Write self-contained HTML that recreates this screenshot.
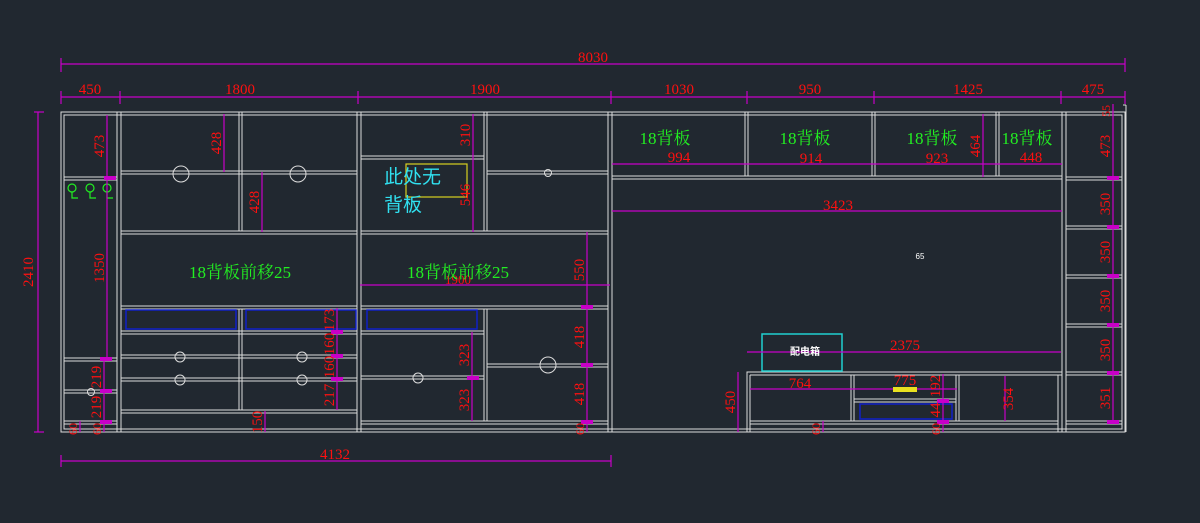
<!DOCTYPE html>
<html><head><meta charset="utf-8"><style>
html,body{margin:0;padding:0;background:#212830;}
svg{display:block}
.w{stroke:#dcdcdc;stroke-width:1;fill:none}
.m{stroke:#c800c8;stroke-width:1.2;fill:none}
.r{fill:#ff1010;font-family:"Liberation Serif","Noto Serif CJK SC",serif;font-size:15px;text-anchor:middle}
.g{fill:#22ee22;font-family:"Liberation Serif","Noto Serif CJK SC",serif;font-size:17px;text-anchor:middle}
</style></head><body>
<svg width="1200" height="523" viewBox="0 0 1200 523" xmlns="http://www.w3.org/2000/svg">
<rect width="1200" height="523" fill="#212830"/>
<!-- cabinet structure -->
<g class="w">
<!-- overall outline -->
<rect x="61" y="112" width="1064" height="320"/>
<rect x="64" y="115" width="1058" height="314"/>
<!-- left column -->
<line x1="117" y1="112" x2="117" y2="432"/><line x1="121" y1="112" x2="121" y2="432"/>
<line x1="64" y1="177" x2="117" y2="177"/><line x1="64" y1="180" x2="117" y2="180"/>
<line x1="64" y1="358" x2="117" y2="358"/><line x1="64" y1="361" x2="117" y2="361"/>
<line x1="64" y1="390" x2="117" y2="390"/><line x1="64" y1="393" x2="117" y2="393"/>
<line x1="64" y1="421" x2="117" y2="421"/><line x1="64" y1="424" x2="117" y2="424"/>
<!-- section 2 -->
<line x1="357" y1="112" x2="357" y2="432"/><line x1="361" y1="112" x2="361" y2="432"/>
<line x1="121" y1="171" x2="357" y2="171"/><line x1="121" y1="174" x2="357" y2="174"/>
<line x1="121" y1="231" x2="357" y2="231"/><line x1="121" y1="234" x2="357" y2="234"/>
<line x1="121" y1="306" x2="357" y2="306"/><line x1="121" y1="309" x2="357" y2="309"/>
<line x1="121" y1="331" x2="357" y2="331"/><line x1="121" y1="334" x2="357" y2="334"/>
<line x1="121" y1="355" x2="357" y2="355"/><line x1="121" y1="358" x2="357" y2="358"/>
<line x1="121" y1="378" x2="357" y2="378"/><line x1="121" y1="381" x2="357" y2="381"/>
<line x1="121" y1="410" x2="357" y2="410"/><line x1="121" y1="413" x2="357" y2="413"/>
<line x1="239" y1="112" x2="239" y2="231"/><line x1="242" y1="112" x2="242" y2="231"/>
<line x1="239" y1="309" x2="239" y2="410"/><line x1="242" y1="309" x2="242" y2="410"/>
<!-- section 3 -->
<line x1="608" y1="112" x2="608" y2="432"/><line x1="612" y1="112" x2="612" y2="432"/>
<line x1="361" y1="156" x2="484" y2="156"/><line x1="361" y1="159" x2="484" y2="159"/>
<line x1="487" y1="171" x2="608" y2="171"/><line x1="487" y1="174" x2="608" y2="174"/>
<line x1="361" y1="231" x2="608" y2="231"/><line x1="361" y1="234" x2="608" y2="234"/>
<line x1="361" y1="306" x2="608" y2="306"/><line x1="361" y1="309" x2="608" y2="309"/>
<line x1="361" y1="331" x2="484" y2="331"/><line x1="361" y1="334" x2="484" y2="334"/>
<line x1="361" y1="376" x2="484" y2="376"/><line x1="361" y1="379" x2="484" y2="379"/>
<line x1="487" y1="364" x2="608" y2="364"/><line x1="487" y1="367" x2="608" y2="367"/>
<line x1="361" y1="421" x2="608" y2="421"/><line x1="361" y1="424" x2="608" y2="424"/>
<line x1="484" y1="112" x2="484" y2="231"/><line x1="487" y1="112" x2="487" y2="231"/>
<line x1="484" y1="309" x2="484" y2="421"/><line x1="487" y1="309" x2="487" y2="421"/>
<!-- top right row -->
<line x1="612" y1="176" x2="1062" y2="176"/><line x1="612" y1="179" x2="1062" y2="179"/>
<line x1="745" y1="112" x2="745" y2="176"/><line x1="748" y1="112" x2="748" y2="176"/>
<line x1="872" y1="112" x2="872" y2="176"/><line x1="875" y1="112" x2="875" y2="176"/>
<line x1="996" y1="112" x2="996" y2="176"/><line x1="999" y1="112" x2="999" y2="176"/>
<!-- right column -->
<line x1="1062" y1="112" x2="1062" y2="432"/><line x1="1066" y1="112" x2="1066" y2="432"/>
<line x1="1066" y1="177" x2="1122" y2="177"/><line x1="1066" y1="180" x2="1122" y2="180"/>
<line x1="1066" y1="226" x2="1122" y2="226"/><line x1="1066" y1="229" x2="1122" y2="229"/>
<line x1="1066" y1="275" x2="1122" y2="275"/><line x1="1066" y1="278" x2="1122" y2="278"/>
<line x1="1066" y1="324" x2="1122" y2="324"/><line x1="1066" y1="327" x2="1122" y2="327"/>
<line x1="1066" y1="372" x2="1122" y2="372"/><line x1="1066" y1="375" x2="1122" y2="375"/>
<line x1="1066" y1="421" x2="1122" y2="421"/><line x1="1066" y1="424" x2="1122" y2="424"/>
<line x1="1123" y1="105" x2="1126" y2="105"/><line x1="1126" y1="105" x2="1126" y2="432"/>
<!-- TV unit -->
<rect x="747" y="372" width="315" height="60"/>
<line x1="750" y1="375" x2="1062" y2="375"/>
<line x1="750" y1="375" x2="750" y2="432"/>
<line x1="750" y1="421" x2="1058" y2="421"/><line x1="750" y1="424" x2="1058" y2="424"/>
<line x1="851" y1="375" x2="851" y2="421"/><line x1="854" y1="375" x2="854" y2="421"/>
<line x1="956" y1="375" x2="956" y2="421"/><line x1="959" y1="375" x2="959" y2="421"/>
<line x1="1058" y1="375" x2="1058" y2="432"/>
<line x1="854" y1="399" x2="956" y2="399"/><line x1="854" y1="402" x2="956" y2="402"/>
<!-- knobs -->
<circle cx="181" cy="174" r="8"/><circle cx="298" cy="174" r="8"/>
<circle cx="180" cy="357" r="5"/><circle cx="302" cy="357" r="5"/>
<circle cx="180" cy="380" r="5"/><circle cx="302" cy="380" r="5"/>
<circle cx="418" cy="378" r="5"/><circle cx="548" cy="365" r="8"/>
<circle cx="548" cy="173" r="3.5"/><circle cx="91" cy="392" r="3.5"/>
</g>
<!-- blue drawers -->
<g stroke="#1020c8" stroke-width="1.5" fill="none">
<rect x="126" y="310" width="110" height="19"/><rect x="246" y="310" width="110" height="19"/>
<rect x="367" y="310" width="110" height="19"/><rect x="860" y="404" width="92" height="15"/>
</g>
<!-- green hooks -->
<g stroke="#22ee22" stroke-width="1.2" fill="none">
<circle cx="72" cy="188" r="4"/><path d="M72 192v6h6"/>
<circle cx="90" cy="188" r="4"/><path d="M90 192v6h6"/>
<circle cx="107" cy="188" r="4"/><path d="M107 192v6h6"/>
</g>
<rect x="406" y="164" width="61" height="33" fill="none" stroke="#d8d020" stroke-width="1.2"/>
<rect x="762" y="334" width="80" height="37" fill="none" stroke="#20d0d0" stroke-width="1.5"/>
<!-- dimension lines -->
<g class="m">
<line x1="61" y1="64" x2="1125" y2="64"/>
<line x1="61" y1="58" x2="61" y2="72"/><line x1="1125" y1="58" x2="1125" y2="72"/>
<line x1="61" y1="97" x2="1125" y2="97"/>
<line x1="61" y1="91" x2="61" y2="104"/><line x1="120" y1="91" x2="120" y2="104"/><line x1="358" y1="91" x2="358" y2="104"/>
<line x1="611" y1="91" x2="611" y2="104"/><line x1="747" y1="91" x2="747" y2="104"/><line x1="874" y1="91" x2="874" y2="104"/>
<line x1="1061" y1="91" x2="1061" y2="104"/><line x1="1125" y1="91" x2="1125" y2="104"/>
<line x1="38" y1="112" x2="38" y2="432"/><line x1="34" y1="112" x2="44" y2="112"/><line x1="34" y1="432" x2="44" y2="432"/>
<line x1="61" y1="461" x2="611" y2="461"/><line x1="61" y1="455" x2="61" y2="467"/><line x1="611" y1="455" x2="611" y2="467"/>
<!-- left column verticals -->
<line x1="107" y1="115" x2="107" y2="359"/><line x1="104" y1="359" x2="104" y2="432"/>
<line x1="80" y1="421" x2="80" y2="432"/>
<line x1="224" y1="114" x2="224" y2="172"/><line x1="262" y1="172" x2="262" y2="232"/>
<line x1="337" y1="308" x2="337" y2="410"/><line x1="265" y1="411" x2="265" y2="432"/>
<line x1="473" y1="114" x2="473" y2="232"/>
<line x1="587" y1="232" x2="587" y2="421"/><line x1="587" y1="421" x2="587" y2="432"/>
<line x1="472" y1="332" x2="472" y2="421"/>
<line x1="360" y1="285" x2="610" y2="285"/>
<line x1="612" y1="164" x2="1062" y2="164"/>
<line x1="612" y1="211" x2="1062" y2="211"/>
<line x1="983" y1="114" x2="983" y2="177"/>
<line x1="1113" y1="104" x2="1113" y2="422"/>
<line x1="747" y1="352" x2="1061" y2="352"/>
<line x1="750" y1="389" x2="957" y2="389"/>
<line x1="738" y1="372" x2="738" y2="432"/>
<line x1="943" y1="374" x2="943" y2="432"/>
<line x1="1005" y1="376" x2="1005" y2="421"/>
<line x1="823" y1="421" x2="823" y2="432"/>
</g>
<g fill="#c800c8">
<rect x="104" y="176" width="12" height="4"/><rect x="100" y="357" width="12" height="4"/><rect x="100" y="389" width="12" height="4"/><rect x="100" y="420" width="12" height="4"/>
<rect x="331" y="330" width="12" height="4"/><rect x="331" y="354" width="12" height="4"/><rect x="331" y="377" width="12" height="4"/>
<rect x="467" y="376" width="12" height="4"/><rect x="581" y="305" width="12" height="4"/><rect x="581" y="363" width="12" height="4"/><rect x="581" y="420" width="12" height="4"/>
<rect x="1107" y="176" width="12" height="4"/><rect x="1107" y="225" width="12" height="4"/><rect x="1107" y="274" width="12" height="4"/><rect x="1107" y="323" width="12" height="4"/><rect x="1107" y="371" width="12" height="4"/><rect x="1107" y="420" width="12" height="4"/>
<rect x="937" y="399" width="12" height="4"/><rect x="937" y="420" width="12" height="4"/>
</g>
<!-- dimension labels -->
<g class="r">
<text x="593" y="62">8030</text>
<text x="90" y="94">450</text><text x="240" y="94">1800</text><text x="485" y="94">1900</text>
<text x="679" y="94">1030</text><text x="810" y="94">950</text><text x="968" y="94">1425</text><text x="1093" y="94">475</text>
<text x="335" y="459">4132</text>
<text x="679" y="162">994</text><text x="811" y="163">914</text><text x="937" y="163">923</text><text x="1031" y="162">448</text>
<text x="838" y="210">3423</text><text x="905" y="350">2375</text><text x="800" y="388">764</text>
<text x="458" y="284" font-size="13">1900</text>
</g>
<g class="r">
<text transform="translate(33,272) rotate(-90)">2410</text>
<text transform="translate(104,146) rotate(-90)">473</text>
<text transform="translate(104,268) rotate(-90)">1350</text>
<text transform="translate(101,377) rotate(-90)">219</text>
<text transform="translate(101,407) rotate(-90)">219</text>
<text transform="translate(101,429) rotate(-90)" font-size="12">60</text>
<text transform="translate(77,429) rotate(-90)" font-size="12">60</text>
<text transform="translate(221,143) rotate(-90)">428</text>
<text transform="translate(259,202) rotate(-90)">428</text>
<text transform="translate(334,320) rotate(-90)">173</text>
<text transform="translate(334,344) rotate(-90)">160</text>
<text transform="translate(334,367) rotate(-90)">160</text>
<text transform="translate(334,395) rotate(-90)">217</text>
<text transform="translate(262,422) rotate(-90)">150</text>
<text transform="translate(470,135) rotate(-90)">310</text>
<text transform="translate(470,195) rotate(-90)">546</text>
<text transform="translate(584,270) rotate(-90)">550</text>
<text transform="translate(584,337) rotate(-90)">418</text>
<text transform="translate(584,394) rotate(-90)">418</text>
<text transform="translate(584,429) rotate(-90)" font-size="12">60</text>
<text transform="translate(469,355) rotate(-90)">323</text>
<text transform="translate(469,400) rotate(-90)">323</text>
<text transform="translate(980,146) rotate(-90)">464</text>
<text transform="translate(1110,146) rotate(-90)">473</text>
<text transform="translate(1110,204) rotate(-90)">350</text>
<text transform="translate(1110,252) rotate(-90)">350</text>
<text transform="translate(1110,301) rotate(-90)">350</text>
<text transform="translate(1110,350) rotate(-90)">350</text>
<text transform="translate(1110,398) rotate(-90)">351</text>
<text transform="translate(1110,111) rotate(-90)" font-size="12">55</text>
<text transform="translate(735,402) rotate(-90)">450</text>
<text transform="translate(940,386) rotate(-90)">192</text>
<text transform="translate(940,410) rotate(-90)">44</text>
<text transform="translate(940,429) rotate(-90)" font-size="12">60</text>
<text transform="translate(820,429) rotate(-90)" font-size="12">60</text>
<text transform="translate(1013,399) rotate(-90)">354</text>
<text x="905" y="385">775</text>
</g>
<rect x="893" y="387" width="24" height="5" fill="#e8e020"/>
<!-- green labels -->
<g class="g">
<text x="240" y="278">18背板前移25</text><text x="458" y="278">18背板前移25</text>
<text x="665" y="144">18背板</text><text x="805" y="144">18背板</text><text x="932" y="144">18背板</text><text x="1027" y="144">18背板</text>
</g>
<text x="384" y="183" fill="#30e0f0" font-family="'Liberation Sans','Noto Sans CJK SC',sans-serif" font-size="19">此处无</text>
<text x="384" y="211" fill="#30e0f0" font-family="'Liberation Sans','Noto Sans CJK SC',sans-serif" font-size="19">背板</text>
<text x="805" y="355" fill="#ffffff" font-family="'Liberation Sans','Noto Sans CJK SC',sans-serif" font-size="10" text-anchor="middle" font-weight="bold">配电箱</text>
<text x="920" y="259" fill="#ffffff" font-family="'Liberation Sans',sans-serif" font-size="8" text-anchor="middle">65</text>
</svg>
</body></html>
